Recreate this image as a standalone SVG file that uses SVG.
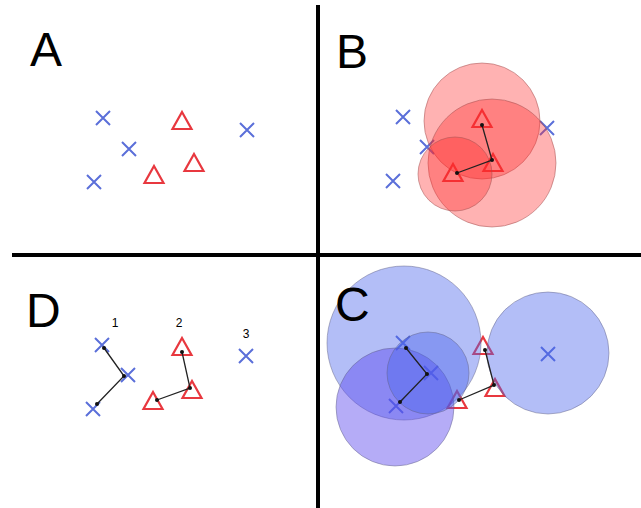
<svg xmlns="http://www.w3.org/2000/svg" width="641" height="508" viewBox="0 0 641 508">
<defs>
<style>
.lbl{font-family:"Liberation Sans",Arial,sans-serif;font-size:48px;fill:#000}
.num{font-family:"Liberation Sans",Arial,sans-serif;font-size:12px;fill:#000;text-anchor:middle}
.x{stroke:#5b6fd9;stroke-width:2;fill:none}
.t{stroke:#e8383f;stroke-width:2.2;fill:none;stroke-linejoin:miter}
.rc{fill:#ff2a2a;fill-opacity:0.36;stroke:#a05050;stroke-opacity:0.5;stroke-width:1}
.bc{fill:#4a64ec;fill-opacity:0.42;stroke:#606080;stroke-opacity:0.45;stroke-width:1}
.bc2{fill:#5a48ee;fill-opacity:0.45;stroke:#606080;stroke-opacity:0.45;stroke-width:1}
.ln{stroke:#222;stroke-width:1.3;fill:none}
.dot{fill:#111}
.div{stroke:#000;stroke-width:4}
</style>
<path id="cross" d="M-7,-7 L7,7 M-7,7 L7,-7" class="x"/>
<path id="tri" d="M0,-9 L9.5,8 L-9.5,8 Z" class="t"/>
</defs>

<g id="dividers">
<line class="div" x1="318" y1="5" x2="318" y2="508"/>
<line class="div" x1="12" y1="255" x2="641" y2="255"/>
</g>

<g id="panelA">
<text class="lbl" x="30" y="66">A</text>
<use href="#cross" x="103" y="118"/>
<use href="#cross" x="129" y="149"/>
<use href="#cross" x="94" y="182"/>
<use href="#cross" x="247" y="130"/>
<use href="#tri" x="182" y="121"/>
<use href="#tri" x="154" y="175"/>
<use href="#tri" x="194" y="163"/>
</g>

<g id="panelB">
<text class="lbl" x="336" y="68">B</text>
<use href="#cross" x="403" y="117"/>
<use href="#cross" x="427" y="147"/>
<use href="#cross" x="393" y="181"/>
<use href="#cross" x="547" y="128"/>
<use href="#tri" x="482" y="119"/>
<use href="#tri" x="453" y="173"/>
<use href="#tri" x="493" y="163"/>
<circle class="rc" cx="482" cy="121" r="58"/>
<circle class="rc" cx="492" cy="163" r="64"/>
<circle class="rc" cx="455" cy="174" r="37"/>
<g id="connectorsB">
<path class="ln" d="M482,125 L492,160 L457,173"/>
<circle class="dot" cx="482" cy="125" r="2"/>
<circle class="dot" cx="492" cy="160" r="2"/>
<circle class="dot" cx="457" cy="173" r="2"/>
</g>
</g>

<g id="panelD">
<text class="lbl" x="26" y="327">D</text>
<text class="num" x="115" y="327">1</text>
<text class="num" x="179" y="327">2</text>
<text class="num" x="246" y="338">3</text>
<use href="#cross" x="102" y="345"/>
<use href="#cross" x="128" y="375"/>
<use href="#cross" x="93" y="409"/>
<use href="#cross" x="246" y="356"/>
<use href="#tri" x="182" y="347"/>
<use href="#tri" x="192" y="390"/>
<use href="#tri" x="153" y="401"/>
<g id="connectorsD">
<path class="ln" d="M104,348 L124,376 L97,404"/>
<path class="ln" d="M182,352 L190,388 L157,400"/>
<circle class="dot" cx="104" cy="348" r="2"/>
<circle class="dot" cx="124" cy="376" r="2"/>
<circle class="dot" cx="97" cy="404" r="2"/>
<circle class="dot" cx="182" cy="352" r="2"/>
<circle class="dot" cx="190" cy="388" r="2"/>
<circle class="dot" cx="157" cy="400" r="2"/>
</g>
</g>

<g id="panelC">
<use href="#cross" x="403" y="343"/>
<use href="#cross" x="431" y="373"/>
<use href="#cross" x="396" y="406"/>
<use href="#cross" x="548" y="354"/>
<use href="#tri" x="483" y="346"/>
<use href="#tri" x="495" y="388"/>
<use href="#tri" x="457" y="400"/>
<circle class="bc" cx="404" cy="343" r="77"/>
<circle class="bc2" cx="395" cy="407" r="59"/>
<circle class="bc" cx="428" cy="373" r="41"/>
<circle class="bc" cx="548" cy="353" r="61"/>
<text class="lbl" x="335" y="321">C</text>
<g id="connectorsC">
<path class="ln" d="M406,348 L427,374 L400,402"/>
<path class="ln" d="M485,350 L494,385 L459,400"/>
<circle class="dot" cx="406" cy="348" r="2"/>
<circle class="dot" cx="427" cy="374" r="2"/>
<circle class="dot" cx="400" cy="402" r="2"/>
<circle class="dot" cx="485" cy="350" r="2"/>
<circle class="dot" cx="494" cy="385" r="2"/>
<circle class="dot" cx="459" cy="400" r="2"/>
</g>
</g>
</svg>
